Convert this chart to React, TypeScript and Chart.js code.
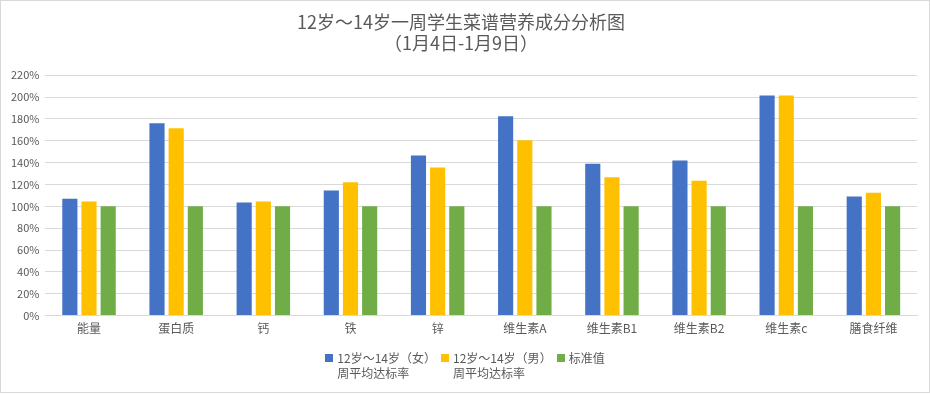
import React, { useEffect, useRef } from "react";
import { Chart, registerables } from "chart.js";

Chart.register(...registerables);

const categories = ["能量", "蛋白质", "钙", "铁", "锌", "维生素A", "维生素B1", "维生素B2", "维生素c", "膳食纤维"];
const girlsRate = [107, 176, 103.5, 114.5, 146.5, 182.5, 139, 142, 201.5, 109];
const boysRate = [104.5, 171.5, 104.5, 122, 135.5, 160.5, 126.5, 123.5, 201.5, 112.5];
const standard = [100, 100, 100, 100, 100, 100, 100, 100, 100, 100];
const girlsLabel = ["12岁～14岁（女）", "周平均达标率"];
const boysLabel = ["12岁～14岁（男）", "周平均达标率"];
const standardLabel = ["标准值"];
const titleLines = ["12岁～14岁一周学生菜谱营养成分分析图", "（1月4日-1月9日）"];

const FONT = "'Noto Sans CJK SC', 'Noto Sans', sans-serif";
const TEXT = "#595959";
const GRID = "#d9d9d9";
const COLORS = ["#4472c4", "#ffc000", "#70ad47"];
const legendItems = [girlsLabel, boysLabel, standardLabel];

export default function App() {
  const ref = useRef<HTMLCanvasElement | null>(null);
  useEffect(() => {
    if (!ref.current) return;
    const chart = new Chart(ref.current, {
      type: "bar",
      data: {
        labels: categories,
        datasets: [
          { label: girlsLabel.join(""), data: girlsRate, backgroundColor: COLORS[0] },
          { label: boysLabel.join(""), data: boysRate, backgroundColor: COLORS[1] },
          { label: standardLabel.join(""), data: standard, backgroundColor: COLORS[2] },
        ],
      },
      options: {
        animation: false,
        responsive: true,
        maintainAspectRatio: false,
        layout: { padding: { left: 4, right: 12, top: 8, bottom: 50 } },
        datasets: { bar: { categoryPercentage: 0.66, barPercentage: 0.79 } },
        plugins: {
          title: {
            display: true,
            text: titleLines,
            color: TEXT,
            font: { family: FONT, size: 18, weight: "normal", lineHeight: 1.2 },
            padding: { top: 2, bottom: 21 },
          },
          legend: { display: false },
          tooltip: { enabled: false },
        },
        scales: {
          x: {
            grid: { display: false, drawTicks: false },
            border: { color: GRID },
            ticks: { color: TEXT, font: { family: FONT, size: 12 }, padding: 6 },
          },
          y: {
            min: 0,
            max: 220,
            grid: { color: GRID, drawTicks: false },
            border: { display: false },
            ticks: {
              stepSize: 20,
              color: TEXT,
              font: { family: FONT, size: 11 },
              padding: 6,
              callback: (v: any) => v + "%",
            },
          },
        },
      },
    });
    return () => chart.destroy();
  }, []);
  return (
    <div
      style={{
        position: "absolute",
        left: 0,
        top: 0,
        width: 930,
        height: 393,
        border: "1px solid #d9d9d9",
        boxSizing: "border-box",
        background: "#fff",
      }}
    >
      <canvas ref={ref} />
      <div
        style={{
          position: "absolute",
          left: 0,
          right: 0,
          top: 349,
          display: "flex",
          justifyContent: "center",
          gap: 5,
          fontFamily: FONT,
          fontSize: 12,
          lineHeight: "15px",
          color: TEXT,
        }}
      >
        {legendItems.map((lines, i) => (
          <div key={i} style={{ display: "flex", alignItems: "flex-start" }}>
            <span
              style={{
                display: "inline-block",
                width: 8,
                height: 8,
                marginTop: 4,
                marginRight: 4,
                background: COLORS[i],
              }}
            />
            <div>
              {lines.map((t, j) => (
                <div key={j}>{t}</div>
              ))}
            </div>
          </div>
        ))}
      </div>
    </div>
  );
}
